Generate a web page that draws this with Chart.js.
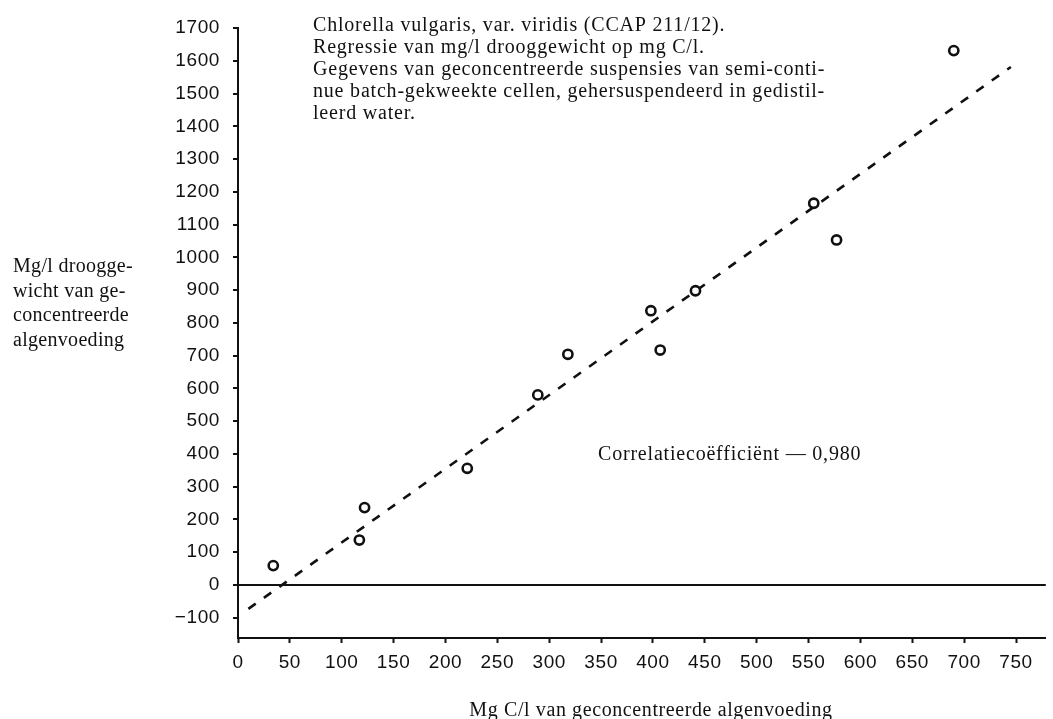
<!DOCTYPE html>
<html>
<head>
<meta charset="utf-8">
<script src="https://cdn.jsdelivr.net/npm/chart.js@4/dist/chart.umd.min.js"></script>
<style>
  html, body { margin: 0; padding: 0; background: #fff; }
  #wrap { position: relative; width: 1053px; height: 719px; }
  canvas { display: block; }
</style>
</head>
<body>
<div id="wrap"><canvas id="c" width="1053" height="719"></canvas></div>
<script>
// ---- data ----
const cellCarbon = [34, 117, 122, 221, 289, 318, 398, 407, 441, 555, 577, 690];      // mg C/l
const dryWeight  = [59, 137, 236, 356, 580, 704, 837, 717, 898, 1165, 1053, 1631];  // mg/l drooggewicht
const trendX = [10, 745];
const trendY = [-73, 1581];
const xTicks = [0, 50, 100, 150, 200, 250, 300, 350, 400, 450, 500, 550, 600, 650, 700, 750];
const yTicks = [-100, 0, 100, 200, 300, 400, 500, 600, 700, 800, 900, 1000, 1100, 1200, 1300, 1400, 1500, 1600, 1700];
const noteLines = [
  'Chlorella vulgaris, var. viridis (CCAP 211/12).',
  'Regressie van mg/l drooggewicht op mg C/l.',
  'Gegevens van geconcentreerde suspensies van semi-conti-',
  'nue batch-gekweekte cellen, gehersuspendeerd in gedistil-',
  'leerd water.'
];
const yTitleLines = ['Mg/l droogge-', 'wicht van ge-', 'concentreerde', 'algenvoeding'];
const xTitle = 'Mg C/l van geconcentreerde algenvoeding';
const corrText = 'Correlatiecoëfficiënt — 0,980';

const INK = '#111';
const SERIF = '"Liberation Serif", "DejaVu Serif", serif';
const SANS = '"Liberation Sans", Arial, sans-serif';

const fmt = v => (v < 0 ? '\u2212' + Math.abs(v) : String(v));

const textPlugin = {
  id: 'texts',
  beforeDraw(chart) {
    chart.ctx.letterSpacing = '0.6px';
  },
  afterDraw(chart) {
    const ctx = chart.ctx;
    ctx.save();
    ctx.fillStyle = INK;
    ctx.textAlign = 'left';
    ctx.textBaseline = 'alphabetic';
    ctx.font = '20px ' + SERIF;
    ctx.letterSpacing = '0.8px';
    noteLines.forEach((t, i) => ctx.fillText(t, 313, 31 + i * 22));
    ctx.fillText(corrText, 598, 460);
    ctx.letterSpacing = '0.3px';
    yTitleLines.forEach((t, i) => ctx.fillText(t, 13, 272 + i * 24.7));
    ctx.letterSpacing = '0.6px';
    ctx.textAlign = 'center';
    ctx.fillText(xTitle, 651, 716);
    ctx.restore();
    ctx.letterSpacing = '0px';
  }
};

new Chart(document.getElementById('c'), {
  data: {
    datasets: [
      {
        type: 'line',
        label: 'Regressie',
        data: trendX.map((x, i) => ({ x, y: trendY[i] })),
        borderColor: INK,
        borderWidth: 2.6,
        borderDash: [9, 10],
        pointRadius: 0,
        fill: false,
        order: 2
      },
      {
        type: 'scatter',
        label: 'Metingen',
        data: cellCarbon.map((x, i) => ({ x, y: dryWeight[i] })),
        pointStyle: 'circle',
        pointRadius: 4.6,
        borderWidth: 2.6,
        borderColor: INK,
        backgroundColor: '#fff',
        order: 1
      }
    ]
  },
  options: {
    responsive: false,
    animation: false,
    layout: { padding: { top: 28, right: 0, bottom: 0, left: 0 } },
    plugins: { legend: { display: false }, tooltip: { enabled: false }, title: { display: false } },
    scales: {
      x: {
        type: 'linear',
        min: 0,
        max: 778.7,
        afterBuildTicks: s => { s.ticks = xTicks.map(v => ({ value: v })); },
        afterFit: s => { s.height = 81; },
        border: { display: true, color: INK, width: 2 },
        grid: { drawOnChartArea: false, drawTicks: true, tickLength: 5, tickColor: INK, tickWidth: 2 },
        ticks: { color: INK, font: { family: SANS, size: 19 }, padding: 8, maxRotation: 0, autoSkip: false, callback: fmt },
        title: { display: false, text: xTitle }
      },
      y: {
        type: 'linear',
        min: -162,
        max: 1700,
        afterBuildTicks: s => { s.ticks = yTicks.map(v => ({ value: v })); },
        afterFit: s => { s.width = 238; },
        border: { display: true, color: INK, width: 2 },
        grid: {
          drawOnChartArea: true,
          color: c => (c.tick && c.tick.value === 0 ? INK : 'rgba(0,0,0,0)'),
          lineWidth: c => (c.tick && c.tick.value === 0 ? 2 : 0),
          drawTicks: true, tickLength: 5, tickColor: INK, tickWidth: 2
        },
        ticks: { color: INK, font: { family: SANS, size: 19 }, padding: 13, autoSkip: false, callback: fmt }
      }
    }
  },
  plugins: [textPlugin]
});
</script>
</body>
</html>
